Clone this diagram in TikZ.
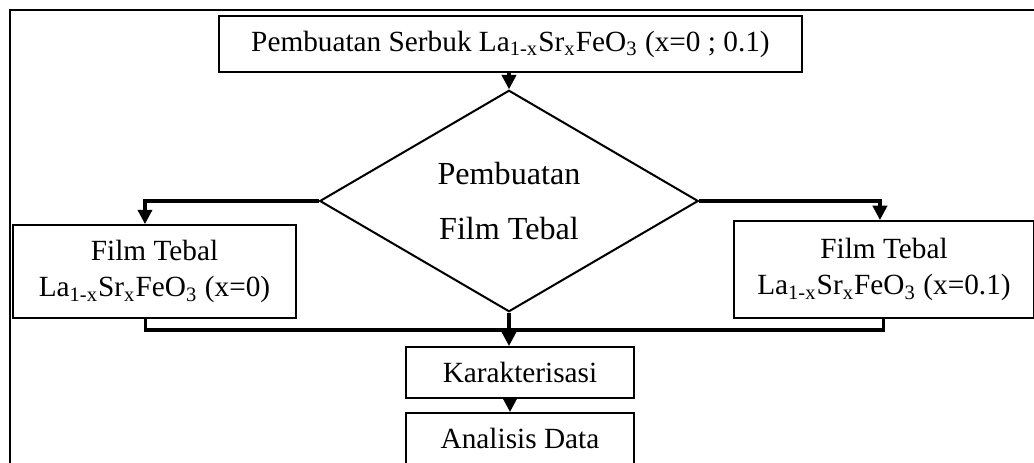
\documentclass[tikz,border=0pt]{standalone}
\usepackage{fontspec}
\setmainfont{Liberation Serif}
\usetikzlibrary{arrows.meta, positioning, shapes.geometric}

\newcommand{\lsfo}{La\textsubscript{1-x}Sr\textsubscript{x}FeO\textsubscript{3}}

\begin{document}
\begin{tikzpicture}[x=0.42pt, y=-0.42pt,
  every node/.style={font=\fontsize{12.3}{14.5}\selectfont},
  pbox/.style={draw, line width=0.85pt, inner sep=0pt, align=center},
  pdec/.style={
    diamond, draw, line width=0.85pt, inner sep=0pt, align=center,
    minimum width=159pt, minimum height=93pt,
    font=\fontsize{13.5}{16}\selectfont
  },
  flow/.style={line width=1.3pt, -{Triangle[length=6pt, width=6pt]}},
  link/.style={line width=1.3pt}
]
\useasboundingbox (0,0) rectangle (1034,463);

% frame
\draw[line width=0.7pt] (10,10) rectangle (1060,490);

% steps
\node[pbox, minimum width=245pt, minimum height=23.5pt] (serbuk) at (510.5,44) {Pembuatan Serbuk \lsfo{} (x=0 ; 0.1)};
\node[pdec] (film) at (509,201) {Pembuatan\\[7pt]Film Tebal};
\node[pbox, minimum width=119pt, minimum height=39pt] (filmA) at (154.5,271.5) {Film Tebal\\[1pt]\lsfo{} (x=0)};
\node[pbox, minimum width=126pt, minimum height=40.7pt] (filmB) at (884,269.5) {Film Tebal\\[1pt]\lsfo{} (x=0.1)};
\node[pbox, minimum width=95.8pt, minimum height=21.4pt] (karak) at (520,372.5) {Karakterisasi};
\node[pbox, minimum width=95.8pt, minimum height=21.4pt] (analisis) at (520,438.5) {Analisis Data};
\coordinate (merge) at (510,330);

% connectors
\draw[flow] (serbuk.south -| film.north) -- (film.north);
\draw[flow] (film.west) -| ([xshift=-4pt]filmA.north);
\draw[flow] (film.east) -| ([xshift=-1.7pt]filmB.north);
\draw[link] ([xshift=-3.6pt]filmA.south) |- (merge);
\draw[link] ([xshift=-0.4pt]filmB.south) |- (merge);
\draw[flow] (film.south) -- (film.south |- karak.north);
\draw[flow] (karak.south -| merge) -- (analisis.north -| merge);
\end{tikzpicture}
\end{document}
